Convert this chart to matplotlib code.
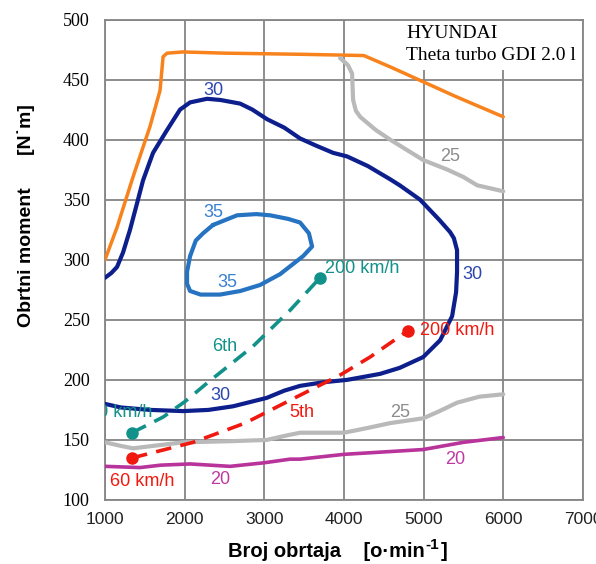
import numpy as np
import matplotlib.pyplot as plt
from matplotlib.patches import Rectangle

# full load torque curve
full_x = [1000, 1151, 1352, 1565, 1691, 1729, 1779, 1980, 2500, 3500, 4250, 4600, 5000, 5400, 6000]
full_y = [300, 327, 369, 411, 441, 469, 472, 473, 472, 471, 470, 460, 448, 436, 419]

# efficiency island 30 (one closed line, lower branch first)
e30_x = [1000, 1200, 1565, 1980, 2300, 2608, 3030, 3250, 3449, 3740, 4040, 4454, 4700, 4995,
         5208, 5358, 5408, 5420, 5420, 5380, 5333, 5200, 4956, 4700, 4580, 4300, 4040, 3864,
         3650, 3449, 3250, 3035, 2850, 2696, 2450, 2281, 2068, 1942, 1779, 1603, 1477, 1402,
         1314, 1226, 1151, 1080, 1000]
e30_y = [180, 177, 175, 174, 175, 178, 185, 191, 195, 198, 200, 205, 210, 219,
         233, 253, 273, 290, 308, 318, 323, 333, 350, 362, 367, 378, 386, 389,
         395, 401, 410, 417, 425, 430, 433, 434, 431, 425, 408, 389, 366, 347,
         325, 306, 294, 289, 285]

# island 35
e35_x = [2357, 2658, 2900, 3072, 3300, 3449, 3560, 3600, 3487, 3198, 2947, 2700, 2444, 2200,
         2068, 2030, 2030, 2068, 2140, 2231, 2357]
e35_y = [329, 337, 338, 337, 334, 331, 322, 311, 303, 288, 279, 274, 271, 271,
         274, 280, 290, 303, 316, 322, 329]

# 25 lines
e25a_x = [3951, 4050, 4102, 4115, 4150, 4203, 4400, 4580, 4800, 4995, 5300, 5497, 5672, 6000]
e25a_y = [468, 462, 455, 433, 424, 419, 408, 400, 391, 383, 375, 369, 362, 357]
e25b_x = [1000, 1200, 1352, 1600, 1980, 2608, 3030, 3300, 3449, 3740, 4000, 4300, 4580, 4995,
          5200, 5420, 5700, 6000]
e25b_y = [148, 145, 143, 145, 148, 149, 150, 154, 156, 156, 156, 160, 164, 168,
          174, 181, 186, 188]

# 20 line
e20_x = [1000, 1440, 1700, 2068, 2570, 3000, 3324, 3449, 4000, 4500, 4995, 5500, 6000]
e20_y = [128, 127, 129, 130, 128, 131, 134, 134, 138, 140, 142, 148, 152]

# gear lines, 60 km/h to 200 km/h
g6_x = [1339, 1728, 2005, 2294, 2859, 3324, 3700]
g6_y = [156, 169, 182, 198, 228, 258, 285]
g5_x = [1339, 2105, 2758, 3412, 3952, 4328, 4805]
g5_y = [135, 148, 164, 186, 204, 219, 241]

xticks = [1000, 2000, 3000, 4000, 5000, 6000, 7000]
yticks = [100, 150, 200, 250, 300, 350, 400, 450, 500]

c_orange = '#f8821c'
c_navy = '#0d1f8c'
c_blue = '#2673c2'
c_gray = '#b9b9b9'
c_mag = '#b8339a'
c_teal = '#12918a'
c_red = '#f0190f'

fig = plt.figure(figsize=(5.96, 5.64), dpi=100)
ax = fig.add_axes([0.1762, 0.1135, 0.8018, 0.8519])

ax.set_xlim(1000, 7000)
ax.set_ylim(100, 500)
ax.set_xticks(xticks)
ax.set_yticks(yticks)
ax.grid(True, color='#858585', lw=1.3)
ax.set_axisbelow(True)
for s in ax.spines.values():
    s.set_color('#858585')
    s.set_linewidth(1.3)
ax.tick_params(length=0)
ax.tick_params(axis='y', pad=11)
ax.tick_params(axis='x', pad=9)
for t in ax.get_yticklabels():
    t.set_fontfamily('Liberation Serif')
    t.set_fontsize(13)
for t in ax.get_xticklabels():
    t.set_fontfamily('Liberation Sans')
    t.set_fontsize(12.5)
    t.set_color('#222222')

# white patch under the engine name
ax.add_patch(Rectangle((4030, 458), 2920, 41.5, facecolor='white', edgecolor='none', zorder=1.5))
ax.text(4780, 488, 'HYUNDAI', family='Liberation Serif', fontsize=14, va='center', zorder=3)
ax.text(4780, 470, 'Theta turbo GDI 2.0 l', family='Liberation Serif', fontsize=14, va='center', zorder=3)

line = dict(zorder=3, solid_joinstyle='round', solid_capstyle='round')
ax.plot(full_x, full_y, color=c_orange, lw=2.5, **line)
ax.plot(e30_x, e30_y, color=c_navy, lw=3.0, **line)
ax.plot(e35_x, e35_y, color=c_blue, lw=3.0, **line)
ax.plot(e25a_x, e25a_y, color=c_gray, lw=3.0, **line)
ax.plot(e25b_x, e25b_y, color=c_gray, lw=3.0, **line)
ax.plot(e20_x, e20_y, color=c_mag, lw=2.6, **line)

# dashed gear lines with a dot at each end
for gx, gy, c in [(g6_x, g6_y, c_teal), (g5_x, g5_y, c_red)]:
    ax.plot(gx, gy, color=c, lw=2.6, ls=(0, (4.3, 2.6)), zorder=4)
    ax.plot([gx[0], gx[-1]], [gy[0], gy[-1]], 'o', color=c, ms=8, zorder=4)

fs = 13
lab = dict(family='Liberation Sans', fontsize=fs, ha='center', va='center', zorder=5)
ax.text(2360, 441, '30', color='#2c46b0', **lab)
ax.text(5610, 288, '30', color='#2c46b0', **lab)
ax.text(2446, 187, '30', color='#2c46b0', **lab)
ax.text(2357, 339, '35', color='#3a80d0', **lab)
ax.text(2532, 281, '35', color='#3a80d0', **lab)
ax.text(5333, 386, '25', color='#8c8c8c', **lab)
ax.text(4705, 173, '25', color='#8c8c8c', **lab)
ax.text(5396, 134, '20', color='#bf3aa0', **lab)
ax.text(2446, 117, '20', color='#bf3aa0', **lab)
ax.text(2508, 228, '6th', color=c_teal, **lab)
ax.text(3474, 173, '5th', color=c_red, **lab)
ax.text(1465, 115, '60 km/h', color=c_red, **lab)
ax.text(1195, 173, '60 km/h', color=c_teal, clip_on=True, **lab)
ax.text(3760, 293, '200 km/h', color=c_teal, family='Liberation Sans', fontsize=fs,
        ha='left', va='center', zorder=5)
ax.text(4956, 241, '200 km/h', color=c_red, family='Liberation Sans', fontsize=fs,
        ha='left', va='center', zorder=5)

fig.text(0.043, 0.617, 'Obrtni moment      [N˙m]', rotation=90, ha='center', va='center',
         family='Liberation Sans', fontweight='bold', fontsize=14)

# x label: unit with a raised "-1"
bold = dict(family='Liberation Sans', fontweight='bold', va='baseline')
t1 = fig.text(0.383, 0.013, 'Broj obrtaja    [o·min', fontsize=14.5, **bold)
fig.canvas.draw()
r = fig.canvas.get_renderer()
inv = fig.transFigure.inverted()
x1 = inv.transform(t1.get_window_extent(r))[1][0]
t2 = fig.text(x1 + 0.001, 0.027, '-1', fontsize=11, **bold)
fig.canvas.draw()
x2 = inv.transform(t2.get_window_extent(r))[1][0]
fig.text(x2 + 0.003, 0.013, ']', fontsize=14.5, **bold)

fig.savefig('out.png', dpi=100)
